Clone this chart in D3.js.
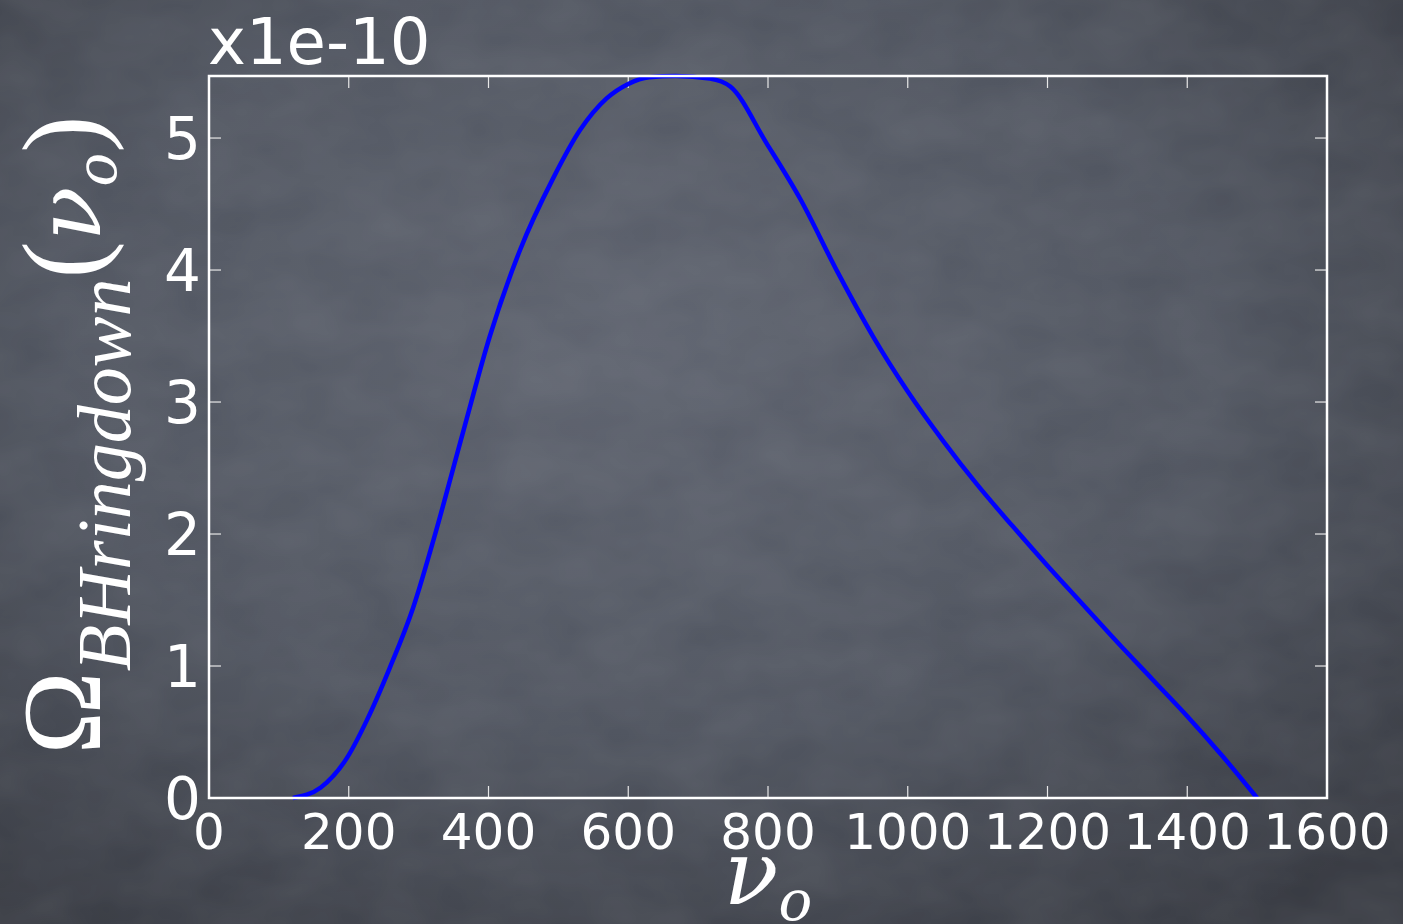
<!DOCTYPE html>
<html>
<head>
<meta charset="utf-8">
<script src="https://cdn.jsdelivr.net/npm/d3@7"></script>
<style>
    body { margin: 0; background: #44484f; }
    svg { display: block; }
</style>
</head>
<body>
<div id="chart"></div>
<script>
var nu = [120, 160, 197, 226, 259, 292, 321, 364, 402, 445, 493, 531, 569, 600, 630, 668, 717, 746,
          798, 846, 900, 950, 1000, 1050, 1100, 1150, 1200, 1250, 1300, 1350, 1400, 1450, 1500];
var omega = [0, 0.08, 0.30, 0.59, 0.99, 1.44, 1.95, 2.78, 3.50, 4.15, 4.70, 5.06, 5.30, 5.41, 5.46, 5.47, 5.45, 5.39,
             4.96, 4.54, 3.98, 3.50, 3.08, 2.71, 2.37, 2.06, 1.76, 1.47, 1.18, 0.90, 0.62, 0.32, 0];
var xTicks = [0, 200, 400, 600, 800, 1000, 1200, 1400, 1600];
var yTicks = [0, 1, 2, 3, 4, 5];

var dims = {
    width: 1403,
    height: 924,
    left: 209,
    top: 76,
    right: 1327,
    bottom: 798
};

var svg = d3.select('#chart')
    .append('svg')
    .attr('width', dims.width)
    .attr('height', dims.height);

// chalkboard background
var defs = svg.append('defs');
var grad = defs.append('radialGradient')
    .attr('id', 'board')
    .attr('cx', '45%')
    .attr('cy', '38%')
    .attr('r', '75%');
grad.append('stop').attr('offset', '0%').attr('stop-color', '#5c616d');
grad.append('stop').attr('offset', '55%').attr('stop-color', '#4e535e');
grad.append('stop').attr('offset', '100%').attr('stop-color', '#353840');

var noise = defs.append('filter').attr('id', 'chalk');
noise.append('feTurbulence')
    .attr('type', 'fractalNoise')
    .attr('baseFrequency', '0.012 0.02')
    .attr('numOctaves', 3)
    .attr('seed', 7);
noise.append('feColorMatrix')
    .attr('type', 'matrix')
    .attr('values', '0 0 0 0 1  0 0 0 0 1  0 0 0 0 1  0 0 0 0.09 0');
noise.append('feComposite').attr('in2', 'SourceGraphic').attr('operator', 'in');

svg.append('rect')
    .attr('width', dims.width)
    .attr('height', dims.height)
    .attr('fill', 'url(#board)');
svg.append('rect')
    .attr('width', dims.width)
    .attr('height', dims.height)
    .attr('fill', '#000')
    .attr('filter', 'url(#chalk)');

var x = d3.scaleLinear().domain([0, 1600]).range([dims.left, dims.right]);
var y = d3.scaleLinear().domain([0, 5.47]).range([dims.bottom, dims.top]);

var tickLen = 12;

// ticks on all four sides, pointing inward
var axes = svg.append('g').attr('stroke', '#e8e8e8').attr('stroke-width', 1.2);
axes.selectAll('line.xb').data(xTicks).enter().append('line')
    .attr('x1', function(d){ return x(d); })
    .attr('x2', function(d){ return x(d); })
    .attr('y1', dims.bottom)
    .attr('y2', dims.bottom - tickLen);
axes.selectAll('line.xt').data(xTicks).enter().append('line')
    .attr('x1', function(d){ return x(d); })
    .attr('x2', function(d){ return x(d); })
    .attr('y1', dims.top)
    .attr('y2', dims.top + tickLen);
axes.selectAll('line.yl').data(yTicks).enter().append('line')
    .attr('x1', dims.left)
    .attr('x2', dims.left + tickLen)
    .attr('y1', function(d){ return y(d); })
    .attr('y2', function(d){ return y(d); });
axes.selectAll('line.yr').data(yTicks).enter().append('line')
    .attr('x1', dims.right)
    .attr('x2', dims.right - tickLen)
    .attr('y1', function(d){ return y(d); })
    .attr('y2', function(d){ return y(d); });

// curve
var line = d3.line()
    .x(function(d){ return x(d[0]); })
    .y(function(d){ return y(d[1]); })
    .curve(d3.curveMonotoneX);

svg.append('path')
    .datum(d3.zip(nu, omega))
    .attr('d', line)
    .attr('fill', 'none')
    .attr('stroke', '#0000ff')
    .attr('stroke-width', 4.5)
    .attr('stroke-linejoin', 'round');

// frame
svg.append('rect')
    .attr('x', dims.left)
    .attr('y', dims.top)
    .attr('width', dims.right - dims.left)
    .attr('height', dims.bottom - dims.top)
    .attr('fill', 'none')
    .attr('stroke', '#ffffff')
    .attr('stroke-width', 2.5);

// tick labels
svg.selectAll('text.xl').data(xTicks).enter().append('text')
    .attr('x', function(d){ return x(d); })
    .attr('y', dims.bottom + 51)
    .attr('text-anchor', 'middle')
    .attr('font-family', 'DejaVu Sans')
    .attr('font-size', 50)
    .attr('fill', '#ffffff')
    .text(function(d){ return d; });

svg.selectAll('text.yl').data(yTicks).enter().append('text')
    .attr('x', dims.left - 8)
    .attr('y', function(d){ return y(d) + 21; })
    .attr('text-anchor', 'end')
    .attr('font-family', 'DejaVu Sans')
    .attr('font-size', 58)
    .attr('fill', '#ffffff')
    .text(function(d){ return d; });

// offset text
svg.append('text')
    .attr('x', 208)
    .attr('y', 64)
    .attr('font-family', 'DejaVu Sans')
    .attr('font-size', 64)
    .attr('fill', '#ffffff')
    .text('x1e-10');

// x label
var xl = svg.append('text')
    .attr('x', 768)
    .attr('y', 904)
    .attr('text-anchor', 'middle')
    .attr('font-family', 'DejaVu Serif')
    .attr('font-style', 'italic')
    .attr('fill', '#ffffff');
xl.append('tspan').attr('font-size', 90).text('ν');
xl.append('tspan').attr('font-size', 56).attr('dy', 16).text('o');

// y label
var yl = svg.append('text')
    .attr('transform', 'translate(100,435) rotate(-90)')
    .attr('text-anchor', 'middle')
    .attr('font-family', 'Liberation Serif')
    .attr('fill', '#ffffff');
yl.append('tspan').attr('font-size', 112).text('Ω');
yl.append('tspan').attr('font-size', 76).attr('font-style', 'italic')
    .attr('dy', 30).text('BHringdown');
yl.append('tspan').attr('font-size', 112).attr('dy', -30).text('(');
yl.append('tspan').attr('font-size', 90).attr('font-family', 'DejaVu Serif')
    .attr('font-style', 'italic').text('ν');
yl.append('tspan').attr('font-size', 56).attr('font-family', 'DejaVu Serif')
    .attr('font-style', 'italic').attr('dy', 16).text('o');
yl.append('tspan').attr('font-size', 112).attr('dy', -16).text(')');
</script>
</body>
</html>
